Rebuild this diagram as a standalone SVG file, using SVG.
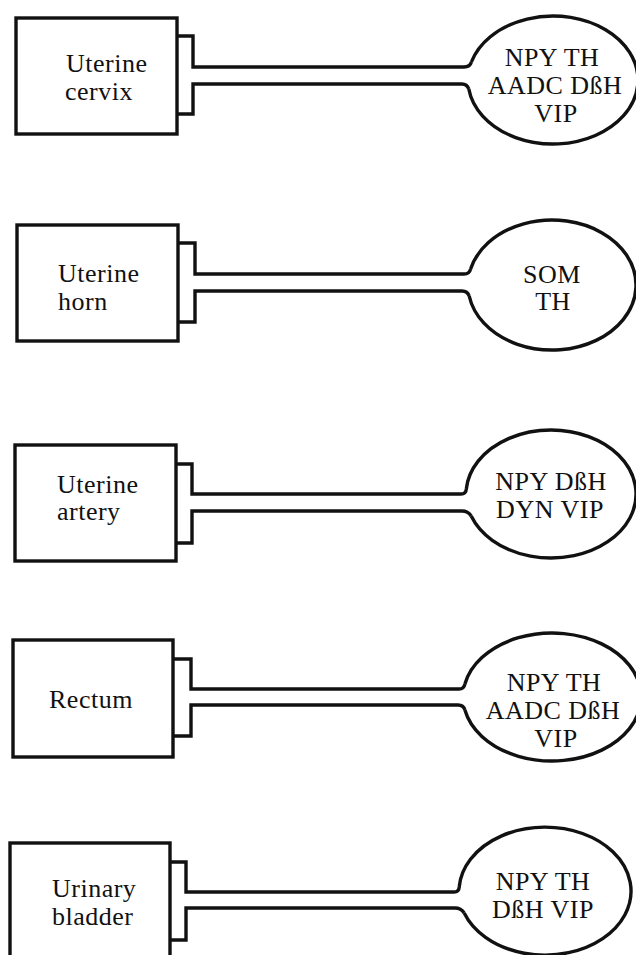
<svg xmlns="http://www.w3.org/2000/svg" width="636" height="955" viewBox="0 0 636 955">
  <style>
    .box { fill: #fff; stroke: #111; stroke-width: 3.4; }
    .bulb { fill: none; stroke: #111; stroke-width: 3.4; }
    .tube { fill: none; stroke: #111; stroke-width: 3.4; stroke-linejoin: miter; }
    .c { text-anchor: middle; }
  </style>
  <rect width="636" height="955" fill="#fff"/>

  <g font-family="'Liberation Serif', 'DejaVu Serif', serif" font-size="26" letter-spacing="0.5" fill="#111">
  <!-- organ boxes -->
  <g id="cervix">
    <rect class="box" x="16" y="18" width="161" height="116"/>
    <text x="66" y="72">Uterine</text>
    <text x="65" y="100">cervix</text>
  </g>
  <g id="horn">
    <rect class="box" x="17" y="225" width="161" height="116"/>
    <text x="58" y="282">Uterine</text>
    <text x="58" y="310">horn</text>
  </g>
  <g id="artery">
    <rect class="box" x="15" y="445" width="161" height="116"/>
    <text x="57" y="493">Uterine</text>
    <text x="57" y="520">artery</text>
  </g>
  <g id="rectum">
    <rect class="box" x="13" y="640" width="160" height="117"/>
    <text x="49" y="708">Rectum</text>
  </g>
  <g id="bladder">
    <rect class="box" x="10" y="843" width="160" height="117"/>
    <text x="52" y="897">Urinary</text>
    <text x="52" y="925">bladder</text>
  </g>

  <!-- ganglion bulbs, open where the nerve enters -->
  <g id="bulb-cervix">
    <path class="bulb" d="M471.4 62 A85 64 0 1 1 468.8 89"/>
    <text class="c" x="552" y="66">NPY TH</text>
    <text class="c" x="555" y="94">AADC DßH</text>
    <text class="c" x="556" y="122">VIP</text>
  </g>
  <g id="bulb-horn">
    <path class="bulb" d="M470.6 269 A84 65 0 1 1 469.2 296"/>
    <text class="c" x="552" y="283">SOM</text>
    <text class="c" x="553" y="310">TH</text>
  </g>
  <g id="bulb-artery">
    <path class="bulb" d="M466.3 489 A85 64 0 1 1 471.2 516"/>
    <text class="c" x="551" y="490">NPY DßH</text>
    <text class="c" x="550" y="518">DYN VIP</text>
  </g>
  <g id="bulb-rectum">
    <path class="bulb" d="M464.9 684 A89 64 0 1 1 464.9 710"/>
    <text class="c" x="554" y="691">NPY TH</text>
    <text class="c" x="553" y="719">AADC DßH</text>
    <text class="c" x="556" y="747">VIP</text>
  </g>
  <g id="bulb-bladder">
    <path class="bulb" d="M459.2 887 A86 64 0 1 1 464.2 913"/>
    <text class="c" x="543" y="890">NPY TH</text>
    <text class="c" x="543" y="918">DßH VIP</text>
  </g>
  </g>

  <!-- nerve tubes: tab on the box, two parallel walls flaring into the bulb -->
  <g id="connectors">
    <path class="tube" d="M177 36 H193 V67 H464 Q470 67 471.4 62 M468.8 89 Q467 84 462 84 H193 V114 H177"/>
    <path class="tube" d="M178 243 H195 V274 H464 Q469.5 274 470.6 269 M469.2 296 Q467.5 291 462 291 H195 V322 H178"/>
    <path class="tube" d="M176 464 H192 V494 H461 Q466 494 466.3 489 M471.2 516 Q468 511 462 511 H192 V543 H176"/>
    <path class="tube" d="M173 659 H191 V689 H459 Q464 689 464.9 684 M464.9 710 Q463.5 705 458 705 H191 V736 H173"/>
    <path class="tube" d="M170 862 H186 V892 H454 Q459 892 459.2 887 M464.2 913 Q461 908 455 908 H186 V940 H170"/>
  </g>
</svg>
